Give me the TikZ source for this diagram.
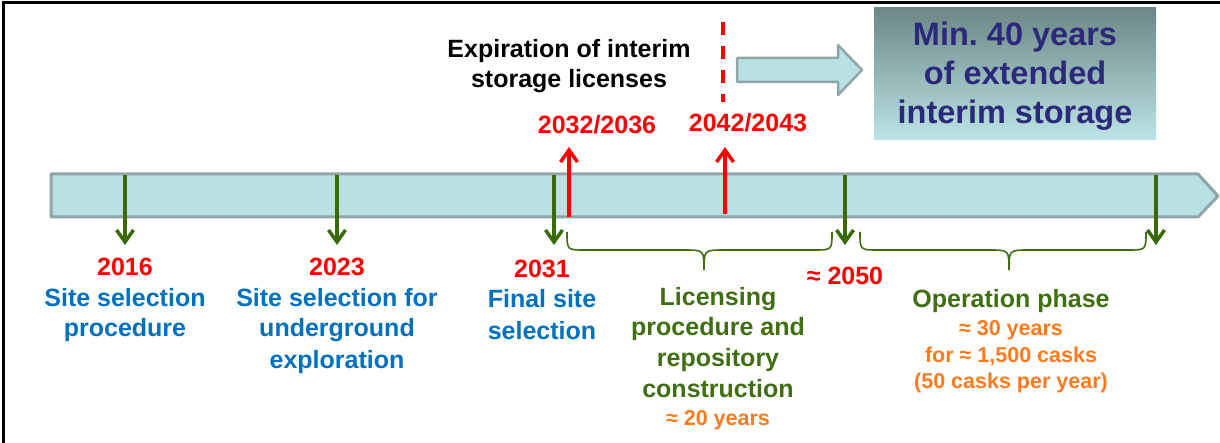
\documentclass[tikz,border=0pt]{standalone}
\usepackage{fontspec}
\setmainfont{Liberation Sans}
\usetikzlibrary{arrows.meta}
\definecolor{barfill}{HTML}{B9E0E2}
\definecolor{bardraw}{HTML}{8FA6A6}
\definecolor{tred}{HTML}{FF0000}
\definecolor{tblue}{HTML}{0070C0}
\definecolor{tgreen}{HTML}{3F6F12}
\definecolor{agreen}{HTML}{386A0C}
\definecolor{torange}{HTML}{FF7A1E}
\definecolor{tnavy}{HTML}{2B2A7A}
\definecolor{boxtop}{HTML}{6C8786}
\definecolor{boxbot}{HTML}{BCE4E6}
\frenchspacing
\begin{document}
\begin{tikzpicture}[x=1pt,y=-1pt,
  txt/.style={anchor=base, inner sep=0pt, font=\bfseries\fontsize{25}{30}\selectfont},
  small/.style={anchor=base, inner sep=0pt, font=\bfseries\fontsize{21.5}{27}\selectfont, text=torange},
  big/.style={anchor=base, inner sep=0pt, font=\bfseries\fontsize{32.5}{39}\selectfont, text=tnavy},
  garrow/.style={draw=agreen, line width=3.5pt, -{Straight Barb[length=12pt,width=17pt]}},
  rarrow/.style={draw=tred, line width=3.5pt, -{Straight Barb[length=12pt,width=17pt]}},
  bracepath/.style={draw=tgreen, line width=1.6pt},
  shaft/.style={fill=barfill, draw=bardraw, line join=round}]

% page extent
\useasboundingbox (0,0) rectangle (1220,443);
\draw[line width=3pt] (3,443) -- (3,3) -- (1220,3);

% time bar
\draw[shaft, line width=3pt] (51,174) -- (1198,174) -- (1218,196) -- (1198,217) -- (51,217) -- cycle;

% extended storage box and arrow pointing to it
\shade[top color=boxtop, bottom color=boxbot] (874,8) rectangle (1156,140);
\node[big] (min1) at (1015,46) {Min. 40 years};
\node[big] (min2) at (1015,85) {of extended};
\node[big] (min3) at (1015,124) {interim storage};
\draw[shaft, line width=2.5pt] (737,58) -- (838,58) -- (838,45) -- (862,70) -- (838,95) -- (838,82) -- (737,82) -- cycle;

% licence expiry marker
\coordinate (dashtop) at (723,22);
\coordinate (dashbot) at (723,102);
\draw[tred, line width=3.5pt, dash pattern=on 13pt off 11pt] (dashtop) -- (dashbot);
\node[txt] (exp1) at (569,58) {Expiration of interim};
\node[txt] (exp2) at (569,88) {storage licenses};
\node[txt, text=tred] (y3236) at (597,134) {2032/2036};
\node[txt, text=tred] (y4243) at (748,132) {2042/2043};

% milestone arrows
\coordinate (g1s) at (125,175); \coordinate (g1e) at (125,245);
\coordinate (g2s) at (337,175); \coordinate (g2e) at (337,245);
\coordinate (g3s) at (554,175); \coordinate (g3e) at (554,245);
\coordinate (g4s) at (845,175); \coordinate (g4e) at (845,245);
\coordinate (g5s) at (1156,175); \coordinate (g5e) at (1156,245);
\draw[garrow] (g1s) -- (g1e);
\draw[garrow] (g2s) -- (g2e);
\draw[garrow] (g3s) -- (g3e);
\draw[garrow] (g4s) -- (g4e);
\draw[garrow] (g5s) -- (g5e);
\coordinate (r1s) at (569,217); \coordinate (r1e) at (569,147);
\coordinate (r2s) at (725,214); \coordinate (r2e) at (725,147);
\draw[rarrow] (r1s) -- (r1e);
\draw[rarrow] (r2s) -- (r2e);

% braces
\draw[bracepath] (567,232) .. controls (567,250) .. (585,250) -- (684,250)
  .. controls (704,250) .. (704,270) .. controls (704,250) .. (724,250)
  -- (814,250) .. controls (832,250) .. (832,232);
\draw[bracepath] (860,232) .. controls (860,250) .. (878,250) -- (989,250)
  .. controls (1009,250) .. (1009,270) .. controls (1009,250) .. (1029,250)
  -- (1128,250) .. controls (1146,250) .. (1146,232);

% labels below the bar
\node[txt, text=tred] (y2016) at (125,276) {2016};
\node[txt, text=tblue] (a1) at (125,307) {Site selection};
\node[txt, text=tblue] (a2) at (125,337) {procedure};

\node[txt, text=tred] (y2023) at (337,276) {2023};
\node[txt, text=tblue] (b1) at (337,307) {Site selection for};
\node[txt, text=tblue] (b2) at (337,337) {underground};
\node[txt, text=tblue] (b3) at (337,368) {exploration};

\node[txt, text=tred] (y2031) at (542,278) {2031};
\node[txt, text=tblue] (c1) at (542,308) {Final site};
\node[txt, text=tblue] (c2) at (542,339) {selection};

\node[txt, text=tgreen] (d1) at (718,306) {Licensing};
\node[txt, text=tgreen] (d2) at (718,336) {procedure and};
\node[txt, text=tgreen] (d3) at (718,366) {repository};
\node[txt, text=tgreen] (d4) at (718,397) {construction};
\node[small] (d5) at (718,425) {≈ 20 years};

\node[txt, text=tred] (y2050) at (845,285) {≈ 2050};

\node[txt, text=tgreen] (e1) at (1011,308) {Operation phase};
\node[small] (e2) at (1011,336) {≈ 30 years};
\node[small] (e3) at (1011,362) {for ≈ 1,500 casks};
\node[small] (e4) at (1011,388) {(50 casks per year)};
\end{tikzpicture}
\end{document}
